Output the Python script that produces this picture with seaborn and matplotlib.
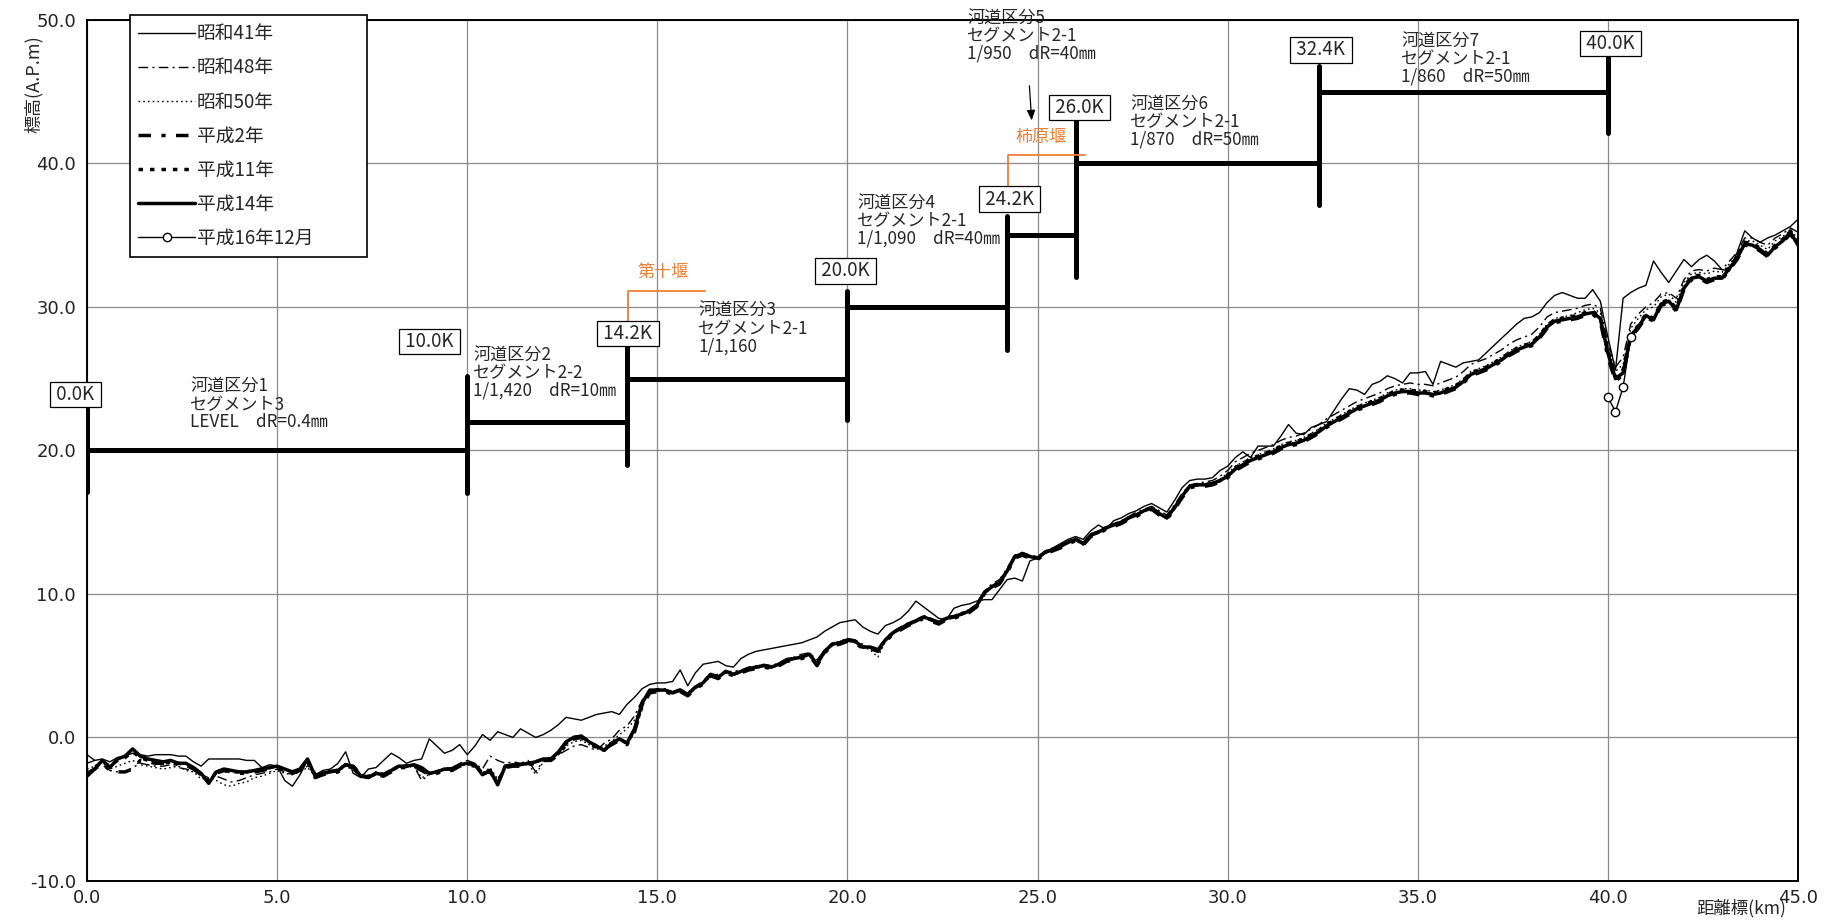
import numpy as np
import pandas as pd
import matplotlib
matplotlib.use("Agg")
import matplotlib.pyplot as plt
import seaborn as sns
from matplotlib.ticker import MultipleLocator, FormatStrFormatter

# ---------------- data ----------------
STEP_KM = 0.2
# 平成14年 (thick solid)
H14 = [
    -2.7, -2.2, -1.6, -2.1, -1.5, -1.3, -0.8, -1.3, -1.5, -1.6,
    -1.7, -1.6, -1.8, -1.8, -2.1, -2.5, -3.2, -2.4, -2.2, -2.3,
    -2.4, -2.4, -2.3, -2.2, -2.1, -2.0, -2.2, -2.4, -2.2, -1.5,
    -2.7, -2.5, -2.4, -2.3, -1.9, -2.0, -2.7, -2.8, -2.5, -2.6,
    -2.3, -2.0, -2.0, -1.9, -2.1, -2.5, -2.4, -2.2, -2.2, -1.9,
    -1.8, -1.9, -2.6, -2.3, -3.3, -2.0, -1.9, -1.9, -1.8, -1.7,
    -1.5, -1.5, -1.0, -0.3, 0.0, 0.1, -0.3, -0.6, -0.9, -0.4,
    -0.1, -0.4, 0.6, 2.4, 3.3, 3.3, 3.3, 3.1, 3.3, 3.0,
    3.5, 3.8, 4.4, 4.2, 4.6, 4.4, 4.6, 4.8, 4.9, 5.0,
    4.9, 5.1, 5.4, 5.5, 5.6, 5.8, 5.1, 6.0, 6.5, 6.6,
    6.8, 6.7, 6.3, 6.3, 6.1, 6.8, 7.3, 7.6, 7.9, 8.1,
    8.4, 8.2, 8.0, 8.3, 8.4, 8.6, 8.8, 9.2, 10.1, 10.5,
    10.8, 11.6, 12.6, 12.8, 12.6, 12.5, 12.9, 13.1, 13.3, 13.6,
    13.8, 13.5, 14.1, 14.3, 14.6, 14.8, 15.0, 15.3, 15.5, 15.8,
    16.0, 15.6, 15.3, 16.0, 16.8, 17.5, 17.6, 17.6, 17.7, 17.9,
    18.2, 18.7, 19.0, 19.3, 19.5, 19.7, 19.9, 20.2, 20.4, 20.5,
    20.7, 21.0, 21.3, 21.7, 22.0, 22.3, 22.6, 22.9, 23.1, 23.3,
    23.5, 23.8, 24.0, 24.1, 24.1, 24.0, 24.0, 23.9, 24.0, 24.2,
    24.4, 24.8, 25.3, 25.5, 25.7, 26.0, 26.3, 26.7, 27.0, 27.2,
    27.4, 27.9, 28.6, 29.0, 29.1, 29.2, 29.3, 29.5, 29.6, 29.2,
    26.8, 25.0, 25.4, 28.0, 28.6, 29.4, 29.1, 30.2, 30.4, 29.8,
    31.3, 32.0, 32.1, 31.8, 32.0, 32.0, 32.7, 33.4, 34.4, 34.3,
    34.0, 33.6, 34.2, 34.6, 35.2, 34.3,
]
# 昭和41年 (thin solid)
S41 = [
    -1.8, -1.6, -1.5, -1.7, -1.4, -1.3, -1.1, -1.2, -1.3, -1.2,
    -1.2, -1.2, -1.3, -1.3, -1.7, -2.0, -1.5, -1.5, -1.5, -1.5,
    -1.5, -1.6, -1.6, -2.1, -1.9, -2.0, -3.0, -3.4, -2.6, -1.6,
    -2.6, -2.3, -2.2, -1.8, -1.0, -2.5, -2.8, -2.2, -2.1, -1.6,
    -1.1, -1.4, -1.8, -1.6, -1.5, -0.1, -0.6, -1.1, -0.9, -0.5,
    -1.2, -0.6, 0.2, -0.2, 0.4, 0.2, 0.0, 0.6, 0.3, 0.0,
    0.2, 0.5, 0.9, 1.4, 1.3, 1.2, 1.4, 1.6, 1.7, 1.8,
    1.6, 2.3, 2.8, 3.4, 3.7, 3.8, 3.8, 3.9, 4.7, 3.6,
    4.5, 5.1, 5.2, 5.3, 5.0, 4.9, 5.5, 5.8, 6.0, 6.1,
    6.2, 6.3, 6.4, 6.5, 6.6, 6.8, 7.0, 7.4, 7.7, 8.0,
    8.1, 8.2, 7.7, 7.4, 7.2, 7.8, 8.0, 8.3, 8.8, 9.5,
    9.1, 8.7, 8.3, 8.2, 9.0, 9.2, 9.3, 9.5, 9.6, 9.6,
    10.3, 11.0, 11.1, 10.9, 12.3, 12.5, 12.9, 13.2, 13.5, 13.8,
    14.0, 13.8, 14.4, 14.8, 14.5, 15.1, 15.3, 15.6, 15.8, 16.1,
    16.3, 16.0, 15.7, 16.5, 17.4, 17.9, 18.0, 18.0, 18.1, 18.6,
    18.9, 19.5, 19.9, 19.5, 20.3, 20.3, 20.3, 21.0, 21.8, 21.2,
    21.1, 21.6, 21.8, 22.0, 22.8, 23.6, 24.3, 24.2, 23.9, 24.6,
    24.8, 25.2, 25.0, 24.7, 25.4, 25.4, 25.5, 24.6, 26.2, 26.0,
    25.8, 26.1, 26.2, 26.3, 26.8, 27.3, 27.8, 28.3, 28.8, 29.2,
    29.3, 29.6, 30.3, 30.8, 31.0, 30.8, 30.6, 30.6, 31.2, 30.4,
    27.9, 25.6, 30.6, 31.0, 31.3, 31.5, 33.2, 32.4, 31.7, 32.5,
    33.3, 32.8, 33.3, 33.6, 33.2, 32.6, 32.5, 33.8, 35.3, 34.8,
    34.5, 34.8, 35.0, 35.3, 35.6, 36.1,
]
# 昭和48年 (dash-dot)
S48 = [
    -1.2, -1.6, -1.9, -2.3, -2.4, -2.4, -2.1, -1.8, -1.9, -2.0,
    -2.0, -1.9, -2.1, -2.2, -2.3, -2.6, -2.8, -2.7, -2.9, -3.1,
    -3.0, -2.8, -2.6, -2.5, -2.4, -2.2, -2.4, -2.6, -2.3, -2.0,
    -2.6, -2.4, -2.3, -2.2, -1.8, -2.1, -2.6, -2.7, -2.4, -2.5,
    -2.2, -2.1, -1.9, -2.0, -3.0, -2.6, -2.3, -2.2, -2.1, -1.8,
    -1.6, -1.8, -2.2, -1.3, -1.6, -1.8, -1.7, -1.8, -1.6, -2.4,
    -1.6, -1.4, -1.2, -0.9, -0.6, -0.5, -0.7, -0.9, -0.4, -0.1,
    0.5, 0.8, 1.5, 2.6, 3.2, 3.4, 3.4, 3.2, 3.4, 3.1,
    3.6, 3.9, 4.3, 4.4, 4.6, 4.6, 4.7, 4.9, 5.0, 5.1,
    5.0, 5.2, 5.5, 5.6, 5.8, 5.9, 5.4, 6.1, 6.5, 6.7,
    6.9, 6.8, 6.5, 6.2, 5.9, 6.9, 7.4, 7.7, 8.0, 8.2,
    8.5, 8.3, 8.1, 8.4, 8.5, 8.7, 8.9, 9.3, 10.2, 10.7,
    11.0, 11.8, 12.7, 12.9, 12.7, 12.6, 13.0, 13.2, 13.4, 13.7,
    13.9, 13.6, 14.2, 14.4, 14.7, 14.9, 15.1, 15.4, 15.7, 15.9,
    16.1, 15.8, 15.5, 16.2, 17.0, 17.6, 17.7, 17.8, 17.9, 18.2,
    18.6, 19.2, 19.5, 19.8, 20.0, 20.2, 20.4, 20.7, 20.9, 21.0,
    21.2, 21.5, 21.8, 22.2, 22.5, 22.8, 23.1, 23.4, 23.6, 23.8,
    24.0, 24.3, 24.5, 24.6, 24.7, 24.6, 24.6, 24.5, 24.7, 24.9,
    25.1, 25.5, 26.0, 26.2, 26.4, 26.7, 27.0, 27.4, 27.7, 27.9,
    28.1, 28.6, 29.3, 29.6, 29.7, 29.8, 29.9, 30.1, 30.2, 29.9,
    27.5, 25.8, 26.5, 28.8, 29.5, 30.0, 30.3, 30.9, 31.0, 30.6,
    31.9, 32.5, 32.6, 32.5, 32.7, 32.6, 33.2, 33.8, 34.8, 34.8,
    34.5, 34.3, 34.8, 35.1, 35.5, 35.2,
]
# 昭和50年 (dotted)
S50 = [
    -2.2, -2.0, -1.7, -2.2, -2.0, -1.8, -1.6, -1.9, -2.0, -2.1,
    -2.2, -2.1, -2.0, -2.3, -2.4, -2.9, -2.8, -3.0, -3.3, -3.4,
    -3.2, -3.1, -2.8, -2.7, -2.5, -2.3, -2.5, -2.6, -2.4, -2.1,
    -2.7, -2.5, -2.4, -2.4, -2.0, -2.2, -2.7, -2.8, -2.6, -2.6,
    -2.3, -2.1, -2.1, -2.0, -2.8, -2.6, -2.4, -2.3, -2.2, -2.0,
    -1.9, -2.0, -2.5, -2.1, -2.9, -2.0, -1.9, -1.9, -1.8, -2.6,
    -1.7, -1.5, -1.1, -0.6, -0.3, -0.2, -0.5, -0.8, -0.6, -0.3,
    0.2, 0.6, 1.2, 2.4, 3.1, 3.3, 3.3, 3.1, 3.3, 2.9,
    3.4, 3.8, 4.2, 4.3, 4.5, 4.4, 4.6, 4.8, 4.9, 5.0,
    4.9, 5.1, 5.4, 5.5, 5.7, 5.8, 5.2, 6.0, 6.4, 6.6,
    6.7, 6.6, 6.3, 6.1, 5.6, 6.7, 7.2, 7.6, 7.9, 8.1,
    8.4, 8.2, 8.0, 8.3, 8.4, 8.6, 8.8, 9.2, 10.1, 10.6,
    10.9, 11.7, 12.6, 12.8, 12.6, 12.5, 12.9, 13.1, 13.3, 13.6,
    13.8, 13.4, 14.1, 14.3, 14.6, 14.8, 15.0, 15.3, 15.5, 15.8,
    16.0, 15.5, 15.3, 16.0, 16.8, 17.5, 17.6, 17.6, 17.7, 18.0,
    18.4, 18.9, 19.2, 19.5, 19.7, 19.9, 20.1, 20.4, 20.6, 20.7,
    20.9, 21.2, 21.5, 21.9, 22.2, 22.5, 22.8, 23.1, 23.3, 23.5,
    23.7, 24.0, 24.2, 24.3, 24.3, 24.2, 24.2, 24.1, 24.2, 24.4,
    24.6, 25.0, 25.5, 25.7, 25.9, 26.2, 26.5, 26.9, 27.2, 27.4,
    27.6, 28.1, 28.8, 29.2, 29.3, 29.4, 29.6, 29.8, 29.9, 29.6,
    27.2, 25.5, 26.0, 28.5, 29.2, 29.8, 30.0, 30.7, 30.9, 30.3,
    31.7, 32.3, 32.4, 32.3, 32.5, 32.4, 33.0, 33.6, 34.6, 34.6,
    34.3, 34.0, 34.6, 34.9, 35.3, 34.8,
]
# 平成2年 (thick long-short dash)
H2 = [
    -2.5, -2.2, -1.8, -2.3, -2.4, -2.4, -2.2, -1.6, -1.7, -1.8,
    -1.8, -1.7, -1.9, -1.9, -2.2, -2.6, -3.0, -2.5, -2.3, -2.4,
    -2.5, -2.5, -2.4, -2.3, -2.2, -2.1, -2.3, -2.5, -2.3, -1.7,
    -2.8, -2.6, -2.5, -2.4, -2.0, -2.1, -2.8, -2.7, -2.6, -2.7,
    -2.4, -2.1, -2.1, -2.0, -2.3, -2.6, -2.5, -2.3, -2.3, -2.0,
    -1.9, -2.0, -2.5, -2.4, -3.1, -2.1, -2.0, -2.0, -1.9, -1.8,
    -1.6, -1.6, -1.2, -0.5, -0.1, 0.0, -0.4, -0.7, -0.8, -0.5,
    -0.2, -0.5, 0.4, 2.2, 3.1, 3.2, 3.2, 3.0, 3.2, 2.9,
    3.4, 3.7, 4.3, 4.1, 4.5, 4.3, 4.5, 4.7, 4.8, 4.9,
    4.8, 5.0, 5.3, 5.4, 5.5, 5.7, 5.0, 5.9, 6.4, 6.5,
    6.7, 6.6, 6.2, 6.2, 6.0, 6.7, 7.2, 7.5, 7.8, 8.0,
    8.3, 8.1, 7.9, 8.2, 8.3, 8.5, 8.7, 9.1, 10.0, 10.4,
    10.7, 11.5, 12.5, 12.7, 12.5, 12.4, 12.8, 13.0, 13.2, 13.5,
    13.7, 13.4, 14.0, 14.2, 14.5, 14.7, 14.9, 15.2, 15.4, 15.7,
    15.9, 15.5, 15.2, 15.9, 16.7, 17.4, 17.5, 17.5, 17.6, 17.8,
    18.1, 18.6, 18.9, 19.2, 19.4, 19.6, 19.8, 20.1, 20.3, 20.4,
    20.6, 20.9, 21.2, 21.6, 21.9, 22.2, 22.5, 22.8, 23.0, 23.2,
    23.4, 23.7, 23.9, 24.0, 24.0, 23.9, 23.9, 23.8, 23.9, 24.1,
    24.3, 24.7, 25.2, 25.4, 25.6, 25.9, 26.2, 26.6, 26.9, 27.1,
    27.3, 27.8, 28.5, 28.9, 29.0, 29.1, 29.2, 29.4, 29.5, 29.0,
    26.5, 24.8, 25.3, 27.9, 28.5, 29.3, 29.0, 30.1, 30.3, 29.7,
    31.2, 31.9, 32.0, 31.7, 31.9, 31.9, 32.6, 33.3, 34.3, 34.2,
    33.9, 33.5, 34.1, 34.5, 35.1, 34.2,
]
# 平成11年 (thick dashed)
H11 = [
    -2.6, -2.1, -1.7, -2.0, -1.6, -1.4, -1.0, -1.4, -1.6, -1.7,
    -1.8, -1.7, -1.8, -1.9, -2.2, -2.6, -3.1, -2.4, -2.3, -2.4,
    -2.4, -2.4, -2.3, -2.2, -2.1, -2.0, -2.3, -2.4, -2.2, -1.6,
    -2.6, -2.5, -2.4, -2.3, -1.9, -2.0, -2.6, -2.8, -2.5, -2.6,
    -2.3, -2.0, -2.0, -1.9, -2.2, -2.5, -2.4, -2.2, -2.2, -1.9,
    -1.8, -1.9, -2.5, -2.3, -3.2, -2.0, -1.9, -1.9, -1.8, -1.7,
    -1.5, -1.5, -1.1, -0.4, 0.0, 0.1, -0.3, -0.6, -0.9, -0.4,
    -0.1, -0.4, 0.5, 2.3, 3.2, 3.3, 3.3, 3.1, 3.3, 3.0,
    3.5, 3.8, 4.4, 4.2, 4.6, 4.4, 4.6, 4.8, 4.9, 5.0,
    4.9, 5.1, 5.4, 5.5, 5.6, 5.8, 5.1, 6.0, 6.5, 6.6,
    6.8, 6.7, 6.3, 6.3, 6.1, 6.8, 7.3, 7.6, 7.9, 8.1,
    8.4, 8.2, 8.0, 8.3, 8.4, 8.6, 8.8, 9.2, 10.1, 10.5,
    10.8, 11.6, 12.6, 12.8, 12.6, 12.5, 12.9, 13.1, 13.3, 13.6,
    13.8, 13.5, 14.1, 14.3, 14.6, 14.8, 15.0, 15.3, 15.5, 15.8,
    16.0, 15.6, 15.3, 16.0, 16.8, 17.5, 17.6, 17.6, 17.7, 17.9,
    18.3, 18.8, 19.1, 19.4, 19.6, 19.8, 20.0, 20.3, 20.5, 20.6,
    20.8, 21.1, 21.4, 21.8, 22.1, 22.4, 22.7, 23.0, 23.2, 23.4,
    23.6, 23.9, 24.1, 24.2, 24.2, 24.1, 24.1, 24.0, 24.1, 24.3,
    24.5, 24.9, 25.4, 25.6, 25.8, 26.1, 26.4, 26.8, 27.1, 27.3,
    27.5, 28.0, 28.7, 29.1, 29.2, 29.3, 29.4, 29.6, 29.7, 29.3,
    26.9, 25.1, 25.6, 28.1, 28.7, 29.5, 29.2, 30.3, 30.5, 29.9,
    31.4, 32.1, 32.2, 31.9, 32.1, 32.1, 32.8, 33.5, 34.5, 34.4,
    34.1, 33.7, 34.3, 34.7, 35.3, 34.4,
]
# 平成16年12月 (thin line with open circles, local survey)
H16_KM = [40.0, 40.2, 40.4, 40.6]
H16 = [23.7, 22.7, 24.4, 27.9]

SERIES_NAMES = ["昭和41年", "昭和48年", "昭和50年", "平成2年", "平成11年", "平成14年"]
SERIES_VALUES = [S41, S48, S50, H2, H11, H14]

# segment structure (河道区分)
SEG_KP = [0.0, 10.0, 14.2, 20.0, 24.2, 26.0, 32.4, 40.0]
SEG_KP_LABELS = ["0.0K", "10.0K", "14.2K", "20.0K", "24.2K", "26.0K", "32.4K", "40.0K"]
SEG_LEVEL = [20.0, 22.0, 25.0, 30.0, 35.0, 40.0, 45.0]
SEG_POST_BOTTOM = [17.1, 17.0, 19.0, 22.1, 27.0, 32.1, 37.1, 42.1]
SEG_POST_TOP = [23.0, 25.2, 27.2, 31.1, 36.3, 43.0, 46.8, 47.4]
SEG_TEXT = [
    ["河道区分1", "セグメント3", "LEVEL　dR=0.4㎜"],
    ["河道区分2", "セグメント2-2", "1/1,420　dR=10㎜"],
    ["河道区分3", "セグメント2-1", "1/1,160"],
    ["河道区分4", "セグメント2-1", "1/1,090　dR=40㎜"],
    ["河道区分5", "セグメント2-1", "1/950　dR=40㎜"],
    ["河道区分6", "セグメント2-1", "1/870　dR=50㎜"],
    ["河道区分7", "セグメント2-1", "1/860　dR=50㎜"],
]
WEIR_NAMES = ["第十堰", "柿原堰"]
WEIR_KP = [14.2, 24.2]

# ---------------- layout / styles ----------------
KP_BOX_POS = [(-0.3, 23.9), (9.0, 27.6), (14.22, 28.15), (19.95, 32.5),
              (24.26, 37.5), (26.1, 43.9), (32.45, 47.9), (40.07, 48.35)]
# left x, centre y of first line
SEG_TEXT_POS = [(2.71, 24.4), (10.15, 26.6), (16.07, 29.7), (20.25, 37.2),
                (23.15, 50.1), (27.43, 44.1), (34.56, 48.5)]
LINE_PITCH = 1.22
WEIR_LINE = [((14.22, 28.95), (14.22, 31.1), (16.25, 31.1)),
             ((24.23, 38.2), (24.23, 40.6), (26.25, 40.6))]
WEIR_TEXT_POS = [(15.14, 32.4), (25.1, 41.85)]
ORANGE = "#EE7F33"

STYLES = {
    "昭和41年": dict(lw=1.0, ls="-"),
    "昭和48年": dict(lw=1.0, ls=(0, (7, 3, 1.5, 3))),
    "昭和50年": dict(lw=1.0, ls=(0, (1.2, 2.2))),
    "平成2年": dict(lw=2.5, ls=(0, (3.6, 3.0, 1.2, 3.0))),
    "平成11年": dict(lw=2.5, ls=(0, (1.3, 2.0))),
    "平成14年": dict(lw=2.5, ls="-"),
}

sns.set_style("white")
plt.rcParams["font.family"] = ["Noto Sans CJK JP", "DejaVu Sans"]
plt.rcParams["axes.unicode_minus"] = False

km = np.round(np.arange(len(H14)) * STEP_KM, 1)
df = pd.DataFrame({"km": km})
for name, vals in zip(SERIES_NAMES, SERIES_VALUES):
    df[name] = vals

fig = plt.figure(figsize=(18.25, 9.22), dpi=100)
ax = fig.add_axes([0.0477, 0.0445, 0.9375, 0.934])

for name in SERIES_NAMES:
    st = STYLES[name]
    sns.lineplot(data=df, x="km", y=name, ax=ax, color="black", lw=st["lw"],
                 linestyle=st["ls"], label=name, sort=False, estimator=None,
                 zorder=3)

sns.lineplot(x=H16_KM, y=H16, ax=ax, color="black", lw=1.0, marker="o",
             markersize=6, markerfacecolor="white", markeredgecolor="black",
             markeredgewidth=1.0, label="平成16年12月", sort=False,
             estimator=None, zorder=4)

# segment steps
ax.vlines(SEG_KP, SEG_POST_BOTTOM, SEG_POST_TOP, color="black", lw=3.6,
          zorder=5, capstyle="round")
ax.hlines(SEG_LEVEL, SEG_KP[:-1], SEG_KP[1:], color="black", lw=3.6, zorder=5)

for (bx, by), lbl in zip(KP_BOX_POS, SEG_KP_LABELS):
    ax.text(bx, by, " " + lbl + " ", ha="center", va="center", fontsize=13.5,
            zorder=6, clip_on=False,
            bbox=dict(boxstyle="square,pad=0.12", fc="white", ec="black", lw=0.9))

for (tx, ty), lines in zip(SEG_TEXT_POS, SEG_TEXT):
    for i, line in enumerate(lines):
        ax.text(tx, ty - i * LINE_PITCH, line, ha="left", va="center",
                fontsize=12.3, zorder=6, clip_on=False)

for pts, (wx, wy), wname in zip(WEIR_LINE, WEIR_TEXT_POS, WEIR_NAMES):
    xs = [p[0] for p in pts]
    ys = [p[1] for p in pts]
    ax.plot(xs, ys, color=ORANGE, lw=1.3, zorder=5)
    ax.text(wx, wy, wname, ha="center", va="center", fontsize=12.3,
            color=ORANGE, zorder=6)

ax.annotate("", xy=(24.85, 42.8), xytext=(24.78, 45.6),
            arrowprops=dict(arrowstyle="-|>,head_length=0.6,head_width=0.25",
                            color="black", lw=0.9), zorder=6)

# axes
ax.set_xlim(0, 45)
ax.set_ylim(-10, 50)
ax.xaxis.set_major_locator(MultipleLocator(5))
ax.xaxis.set_minor_locator(MultipleLocator(1))
ax.yaxis.set_major_locator(MultipleLocator(10))
ax.yaxis.set_minor_locator(MultipleLocator(2))
ax.xaxis.set_major_formatter(FormatStrFormatter("%.1f"))
ax.yaxis.set_major_formatter(FormatStrFormatter("%.1f"))
ax.tick_params(axis="both", which="both", direction="in", length=5, width=1.0,
               color="black", labelsize=13, labelcolor="#222222",
               labelfontfamily="DejaVu Sans")
ax.tick_params(axis="x", which="both", top=False, pad=6)
ax.tick_params(axis="y", which="both", right=False, pad=8)
ax.grid(True, which="major", color="#8a8a8a", lw=0.9)
for sp in ax.spines.values():
    sp.set_visible(True)
    sp.set_color("black")
    sp.set_linewidth(1.4)

ax.set_xlabel("距離標(km)", fontsize=12.5)
ax.xaxis.set_label_coords(0.967, -0.021)
ax.xaxis.label.set_va("top")
ax.set_ylabel("標高(A.P.m)", fontsize=13)
ax.yaxis.set_label_coords(-0.031, 0.925)
ax.yaxis.label.set_va("center")

handles, labels = ax.get_legend_handles_labels()
leg = ax.legend(handles, labels, loc="upper left",
                bbox_to_anchor=(0.0251, 1.0058, 0.1385, 0.0),
                mode="expand", borderaxespad=0.0, fontsize=13.5,
                handlelength=3.0, handletextpad=0.1, labelspacing=0.7,
                borderpad=0.45, fancybox=False, framealpha=1.0,
                edgecolor="black", frameon=True)
leg.get_frame().set_linewidth(1.2)
leg.set_zorder(10)

fig.savefig("out.png", dpi=100, facecolor="white")
